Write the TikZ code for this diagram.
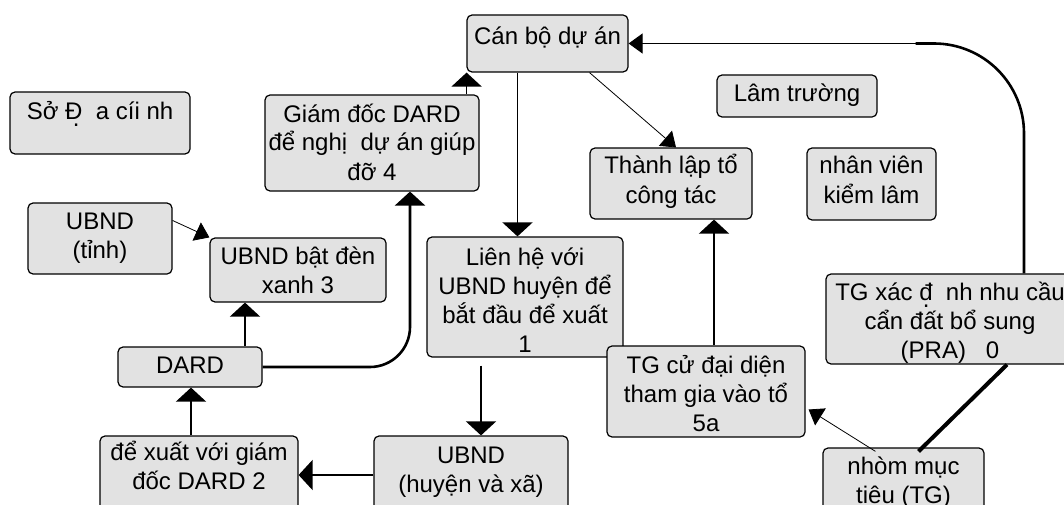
\documentclass[tikz,border=0pt]{standalone}
\usepackage{fontspec}
\setmainfont{Liberation Sans}
\usetikzlibrary{arrows.meta}
\definecolor{boxgray}{HTML}{E2E2E2}
\newcommand\dotbelow{\makebox[0pt][r]{\raisebox{-7pt}{.}\kern3pt}}
\tikzset{
  box/.style={draw=black, line width=1.2pt, fill=boxgray, rounded corners=5pt,
    inner xsep=2pt, inner ysep=0pt, align=center, anchor=base,
    font=\fontsize{24}{29}\selectfont},
  conn/.style={line width=1.5pt, -{Triangle[width=30pt,length=14pt]}},
  thinconn/.style={line width=0.8pt, -{Triangle[width=20pt,length=14pt]}},
  heavy/.style={line width=2.6pt},
}
\begin{document}
\begin{tikzpicture}[x=1pt,y=-1pt]
\useasboundingbox (0,0) rectangle (1064,505);
% boxes: anchor=base at (center x, last baseline)
\node[box, minimum width=180, text height=28, text depth=34] (so) at (100,120) {Sở Đ\dotbelow\ \ a cíi nh};
\node[box, minimum width=161, text height=30, text depth=27] (canbo) at (547.5,45) {Cán bộ dự án};
\node[box, minimum width=214, text height=85, text depth=11] (giamdoc) at (372,180) {Giám đốc DARD\\để nghị\ \ dự án giúp\\đỡ 4};
\node[box, minimum width=160, text height=27, text depth=15] (lam) at (797,102) {Lâm trường};
\node[box, minimum width=162, text height=55, text depth=16] (thanh) at (671,203) {Thành lập tổ\\công tác};
\node[box, minimum width=129, text height=55, text depth=17] (nhanvien) at (871.5,203) {nhân viên\\kiểm lâm};
\node[box, minimum width=144, text height=55, text depth=16] (tinh) at (100,258) {UBND\\(tỉnh)};
\node[box, minimum width=176, text height=55, text depth=9] (batden) at (298,293) {UBND bật đèn\\xanh 3};
\node[box, minimum width=196, text height=115, text depth=5] (lienhe) at (525,352) {Liên hệ với\\UBND huyện để\\bắt đầu để xuất\\1};
\node[box, minimum width=144, text height=26, text depth=14] (dard) at (190,373) {DARD};
\node[box, minimum width=198, text height=53, text depth=31] (dexuat) at (199,489) {để xuất với giám\\đốc DARD 2};
\node[box, minimum width=194, text height=56, text depth=48] (huyen) at (471,492) {UBND\\(huyện và xã)};
\node[box, minimum width=198, text height=85, text depth=6] (tgcu) at (706,431) {TG cử đại diện\\tham gia vào tổ\\5a};
\node[box, minimum width=248, text height=84, text depth=6] (tgxac) at (950,358) {TG xác đ\dotbelow\ \ nh nhu cầu\\cẩn đất bổ sung\\(PRA)\ \ \ 0};
\node[box, minimum width=161, text height=55, text depth=37] (nhom) at (903.5,503) {nhòm mục\\tiêu (TG)};
% connectors
\draw[conn] ([xshift=-30pt]canbo.south) -- ([xshift=-30pt]canbo.south |- lienhe.north);
\draw[thinconn] ([xshift=42pt]canbo.south) -- ([xshift=5pt]thanh.north);
\draw[conn] ([xshift=-13pt]giamdoc.north east) -- ([xshift=-13pt]giamdoc.north east |- canbo.south);
\draw[heavy, rounded corners=40pt, -{Triangle[width=30pt,length=14pt]}] (dard.east) -| ([xshift=38pt]giamdoc.south);
\draw[conn] ([xshift=55pt]dard.north) -- ([xshift=55pt]dard.north |- batden.south);
\draw[conn] ([xshift=-8pt]dexuat.north) -- ([xshift=-8pt]dexuat.north |- dard.south);
\draw[conn] ([yshift=13pt]huyen.west) -- ([yshift=13pt]huyen.west -| dexuat.east);
\draw[conn] ([xshift=-44pt,yshift=-8pt]lienhe.south) -- ([xshift=-44pt]lienhe.south |- huyen.north);
\draw[thinconn] ([yshift=18pt]tinh.east) -- (batden.north west);
\draw[conn] ([xshift=43pt]thanh.south |- tgcu.north) -- ([xshift=43pt]thanh.south);
\draw[thinconn] ([xshift=-28pt,yshift=-4pt]nhom.north) -- ([xshift=3pt,yshift=-18pt]tgcu.east);
\draw[line width=4pt] ([xshift=57pt]tgxac.south) -- ([xshift=15pt,yshift=-4pt]nhom.north);
\coordinate (bend) at ([xshift=287pt]canbo.east);
\draw[heavy, rounded corners=90pt] ([xshift=74pt]tgxac.north) |- (bend);
\draw[thinconn, line width=1.2pt] (bend) -- (canbo.east);
\end{tikzpicture}
\end{document}
